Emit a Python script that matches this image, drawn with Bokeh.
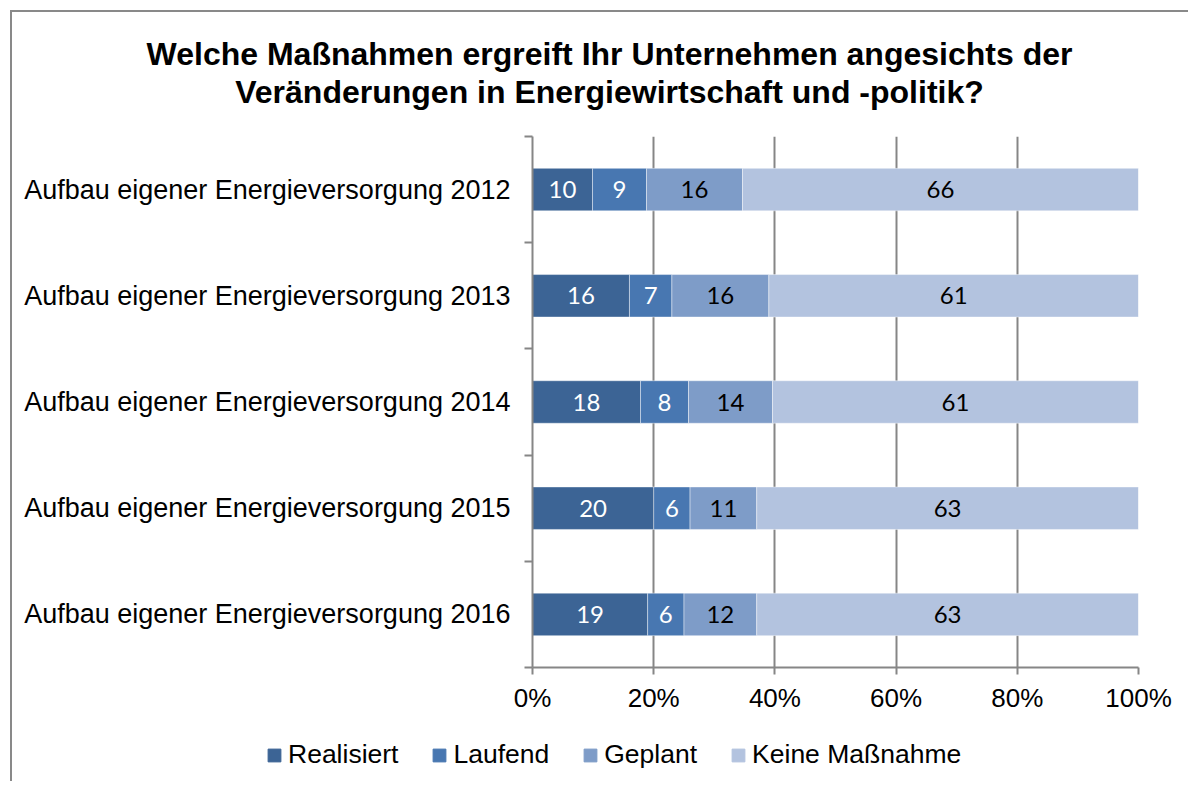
from bokeh.plotting import figure
from bokeh.models import (ColumnDataSource, FixedTicker, Legend, LegendItem, Label, Range1d)
from bokeh.layouts import column
from bokeh.core.properties import value
from bokeh.embed import file_html
from bokeh.resources import INLINE

# ---------------- data ----------------
categories = [
    "Aufbau eigener Energieversorgung 2012",
    "Aufbau eigener Energieversorgung 2013",
    "Aufbau eigener Energieversorgung 2014",
    "Aufbau eigener Energieversorgung 2015",
    "Aufbau eigener Energieversorgung 2016",
]
realisiert = [10, 16, 18, 20, 19]
laufend = [9, 7, 8, 6, 6]
geplant = [16, 16, 14, 11, 12]
keine = [66, 61, 61, 63, 63]
series_names = ["Realisiert", "Laufend", "Geplant", "Keine Maßnahme"]
x_ticks = [0, 20, 40, 60, 80, 100]
x_tick_labels = ["0%", "20%", "40%", "60%", "80%", "100%"]
title_lines = ["Welche Maßnahmen ergreift Ihr Unternehmen angesichts der",
               "Veränderungen in Energiewirtschaft und -politik?"]

# ---------------- styles ----------------
colors = ["#3C6495", "#4877B1", "#7E9CC8", "#B3C3DF"]
label_colors = ["white", "white", "black", "black"]
grey = "#868686"
frame_grey = "#898989"
keys = ["s0", "s1", "s2", "s3"]
series = [realisiert, laufend, geplant, keine]
W = 1178

n = len(categories)
ypos = [n - 1 - i for i in range(n)]

data = {"y": ypos}
lx, ly, lt, lc = [], [], [], []
for i in range(n):
    tot = sum(s[i] for s in series)
    cum = 0.0
    for k, s in enumerate(series):
        v = s[i] / tot * 100.0
        data.setdefault(keys[k], []).append(v)
        lx.append(cum + v / 2)
        ly.append(ypos[i])
        lt.append(str(s[i]))
        lc.append(label_colors[k])
        cum += v
src = ColumnDataSource(data)
lsrc = ColumnDataSource(dict(x=lx, y=ly, t=lt, c=lc))

# ---------------- title strip ----------------
t = figure(width=W, height=101, x_range=Range1d(0, 1), y_range=Range1d(0, 1),
           output_backend="svg", toolbar_location=None, title=None, min_border=0)
t.frame_align = False
t.axis.visible = False
t.grid.visible = False
t.outline_line_color = None
t.styles = {"margin-left": "10px", "margin-top": "10px",
            "border-left": f"2px solid {frame_grey}", "border-top": f"2px solid {frame_grey}"}
for txt, yy in zip(title_lines, [60, 22]):
    t.add_layout(Label(x=597, y=yy, x_units="screen", y_units="screen", text=txt,
                       text_align="center", text_baseline="middle",
                       text_font="Liberation Sans", text_font_style="bold",
                       text_font_size="32px", text_color="black"))

# ---------------- main chart ----------------
p = figure(width=W, height=613, x_range=Range1d(0, 100), y_range=Range1d(-0.5, n - 0.5),
           output_backend="svg", toolbar_location=None, title=None,
           min_border_left=520, min_border_right=52, min_border_top=25, min_border_bottom=57)
p.frame_align = False
p.outline_line_color = None
p.background_fill_color = "white"
p.border_fill_color = "white"
p.styles = {"margin-left": "10px", "border-left": f"2px solid {frame_grey}"}

rs = p.hbar_stack(keys, y="y", height=0.4, color=colors, source=src,
                  line_color="white", line_width=0.6, line_alpha=0.7)

p.text(x="x", y="y", text="t", text_color="c", source=lsrc,
       text_align="center", text_baseline="middle",
       text_font=value("Lato"), text_font_size="24px")

# x axis
p.xaxis.ticker = FixedTicker(ticks=x_ticks)
p.xaxis.major_label_overrides = {tk: lb for tk, lb in zip(x_ticks, x_tick_labels)}
p.xaxis.axis_line_color = grey
p.xaxis.axis_line_width = 2
p.xaxis.major_tick_line_color = grey
p.xaxis.major_tick_line_width = 2
p.xaxis.major_tick_out = 7
p.xaxis.major_tick_in = 0
p.xaxis.minor_tick_line_color = None
p.xaxis.major_label_text_font = "Liberation Sans"
p.xaxis.major_label_text_font_size = "26px"
p.xaxis.major_label_text_color = "black"
p.xaxis.major_label_standoff = 8

# y axis
p.yaxis.ticker = FixedTicker(ticks=ypos, minor_ticks=[i - 0.5 for i in range(n + 1)])
p.yaxis.major_label_overrides = {y: c for y, c in zip(ypos, categories)}
p.yaxis.axis_line_color = grey
p.yaxis.axis_line_width = 2
p.yaxis.major_tick_line_color = None
p.yaxis.major_tick_out = 0
p.yaxis.major_tick_in = 0
p.yaxis.minor_tick_line_color = grey
p.yaxis.minor_tick_line_width = 2
p.yaxis.minor_tick_out = 8
p.yaxis.minor_tick_in = 0
p.yaxis.major_label_text_font = "Liberation Sans"
p.yaxis.major_label_text_font_size = "27px"
p.yaxis.major_label_text_color = "black"
p.yaxis.major_label_standoff = 14

p.xgrid.grid_line_color = grey
p.xgrid.grid_line_width = 2
p.ygrid.grid_line_color = None

# ---------------- legend strip ----------------
q = figure(width=W, height=57, x_range=Range1d(0, 100), y_range=Range1d(100, 101),
           output_backend="svg", toolbar_location=None, title=None, min_border=0)
q.frame_align = False
q.axis.visible = False
q.grid.visible = False
q.outline_line_color = None
q.styles = {"margin-left": "10px", "border-left": f"2px solid {frame_grey}"}
leg_rs = q.hbar_stack(keys, y="y", height=0.4, color=colors, source=src)
items = [LegendItem(label=nm, renderers=[r]) for nm, r in zip(series_names, leg_rs)]
legend = Legend(items=items, location=(254, 11), orientation="horizontal",
                label_text_font="Liberation Sans", label_text_font_size="26.5px",
                label_text_color="black",
                glyph_width=16, glyph_height=16, label_standoff=6, spacing=33,
                padding=0, margin=0, border_line_color=None, background_fill_alpha=0)
q.add_layout(legend)

layout = column(t, p, q, spacing=0)
open("out.html", "w").write(file_html(layout, INLINE))
